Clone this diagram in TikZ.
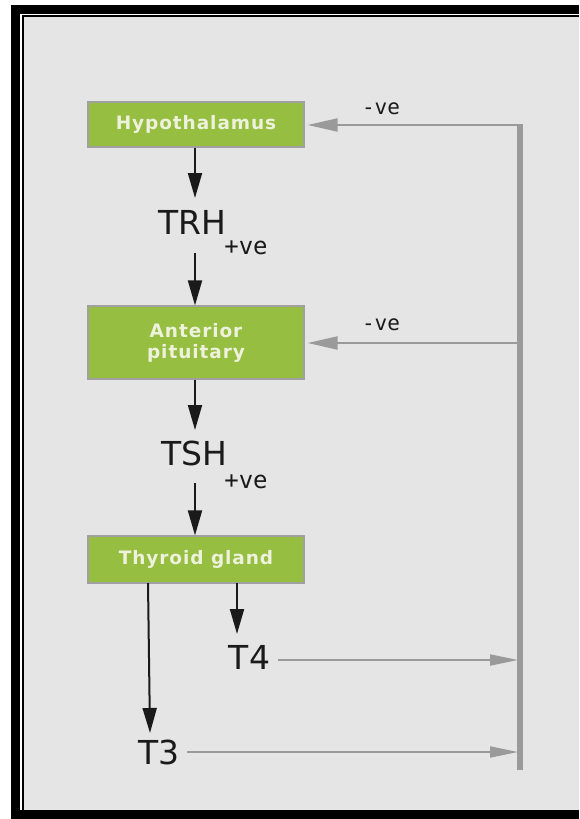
\documentclass[tikz,border=0pt]{standalone}
\usepackage{fontspec}
\setmainfont{DejaVu Sans}
\newfontfamily\boxfont[LetterSpace=5]{DejaVu Sans}
\newfontfamily\labfont{DejaVu Sans}
\newfontfamily\monofont{DejaVu Sans Mono}
\usetikzlibrary{arrows.meta,calc}
\definecolor{bgc}{HTML}{E5E5E5}
\definecolor{boxgreen}{HTML}{96BE41}
\definecolor{boxedge}{HTML}{A0A0A0}
\definecolor{boxtext}{HTML}{EEF1DC}
\definecolor{fbgray}{HTML}{9A9A9A}
\definecolor{blk}{HTML}{1A1A1A}
\tikzset{
  organ/.style={draw=boxedge, line width=1.2pt, fill=boxgreen, text=boxtext,
    font=\boxfont\bfseries\fontsize{18.5}{21}\selectfont, align=center,
    minimum width=216pt, inner sep=0pt},
  hormone/.style={font=\labfont\fontsize{33}{35}\selectfont, text=blk, inner sep=0pt},
  plussign/.style={font=\monofont\fontsize{24}{26}\selectfont, text=blk, inner sep=0pt},
  minussign/.style={font=\monofont\fontsize{21}{23}\selectfont, text=blk, inner sep=0pt},
  blkarrow/.style={draw=blk, line width=2pt, -{Triangle[length=25pt,width=14pt]}},
  grayarrow/.style={draw=fbgray, line width=2pt, -{Triangle[length=30pt,width=13pt]}},
  tarrow/.style={draw=fbgray, line width=2pt, -{Triangle[length=28pt,width=11pt]}},
  bar/.style={draw=fbgray, line width=6pt}
}
\begin{document}
\begin{tikzpicture}[x=1pt,y=-1pt]
\useasboundingbox (0,0) rectangle (579,819);
% frame
\fill[white] (0,0) rectangle (579,819);
\fill[black] (11,5) rectangle (579,819);
\fill[white] (20,14) rectangle (579,810);
\fill[black] (22,15.3) rectangle (579,810);
\fill[bgc] (24,17) rectangle (579,810);
% organs
\node[organ, minimum height=45pt] (hypo) at (196,124.5) {Hypothalamus};
\node[organ, minimum height=73pt] (ant) at (196,342.5) {Anterior\\pituitary};
\node[organ, minimum height=47pt] (thy) at (196,559.5) {Thyroid gland};
% hormones
\node[hormone] (trh) at (192,222) {TRH};
\node[plussign] (p1) at (246,248) {+ve};
\node[hormone] (tsh) at (194,453) {TSH};
\node[plussign] (p2) at (246,482) {+ve};
\node[hormone] (t4) at (249.5,657) {T4};
\node[hormone] (t3) at (159,752) {T3};
\node[minussign] (m1) at (381,109) {-ve};
\node[minussign] (m2) at (381,325) {-ve};
% feedback bar
\coordinate (bartop) at (520,124);
\coordinate (barbot) at (520,770);
\draw[bar] (bartop) -- (barbot);
% stimulatory arrows
\coordinate (a1) at (195,198);
\coordinate (a2s) at (195,253);
\coordinate (a3) at (195,430);
\coordinate (a4s) at (195,483);
\draw[blkarrow] (hypo.south -| a1) -- (a1);
\draw[blkarrow] (a2s) -- (ant.north -| a2s);
\draw[blkarrow] (ant.south -| a3) -- (a3);
\draw[blkarrow] (a4s) -- (thy.north -| a4s);
\coordinate (t3s) at (148,583);
\coordinate (t3e) at (150,733);
\coordinate (t4s) at (237,583);
\coordinate (t4e) at (237,634);
\draw[blkarrow] (t3s) -- (t3e);
\draw[blkarrow] (t4s) -- (t4e);
% hormone to bar
\coordinate (t4b) at (518,660);
\coordinate (t3b) at (518,752);
\draw[tarrow] ([xshift=8pt]t4.east |- t4b) -- (t4b);
\draw[tarrow] ([xshift=7pt]t3.east |- t3b) -- (t3b);
% negative feedback
\coordinate (f1) at (518,125);
\coordinate (f2) at (518,343);
\draw[grayarrow] (f1) -- ([xshift=3pt]hypo.east |- f1);
\draw[grayarrow] (f2) -- ([xshift=3pt]ant.east |- f2);
\end{tikzpicture}
\end{document}
